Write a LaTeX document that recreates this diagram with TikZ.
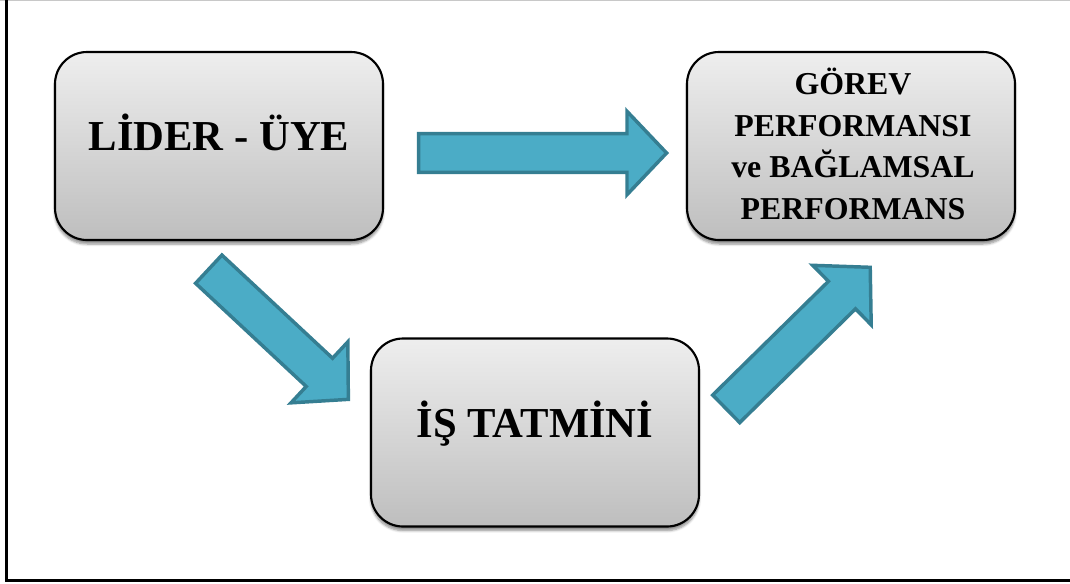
\documentclass[tikz,border=0pt]{standalone}
\usepackage{fontspec}
\setmainfont{Liberation Serif}
\usetikzlibrary{shadows.blur}
\definecolor{arrowfill}{HTML}{4BACC6}
\definecolor{arrowdraw}{HTML}{357E92}
\definecolor{boxtop}{HTML}{EEEEEE}
\definecolor{boxbot}{HTML}{BEBEBE}
\definecolor{framegray}{HTML}{C8C8C8}
\tikzset{
  stagebox/.style={draw=black, line width=1.6pt, rounded corners=24pt,
    top color=boxtop, bottom color=boxbot,
    minimum width=246pt, minimum height=141pt, inner sep=0pt,
    blur shadow={shadow xshift=0pt, shadow yshift=-3pt, shadow blur steps=6, shadow opacity=45}},
  bigtext/.style={font=\bfseries\fontsize{32}{38}\selectfont, inner sep=0pt},
  smalltext/.style={font=\bfseries\fontsize{23.9}{31.3}\selectfont, align=center, inner sep=0pt},
  blockarrow/.style={fill=arrowfill, draw=arrowdraw, line width=2.6pt, line join=miter},
}
\newcommand\myblockarrow[3]{%
  \begin{scope}[shift={(#1)}, rotate=#2]
    \draw[blockarrow] (1.7,-19.3) -- ({#3-42},-19.3) -- ({#3-42},-41.7) -- ({#3-2.4},0)
      -- ({#3-42},41.7) -- ({#3-42},19.3) -- (1.7,19.3) -- cycle;
  \end{scope}}
\begin{document}
\begin{tikzpicture}[x=0.75pt, y=-0.75pt]
  \useasboundingbox (0,0) rectangle (1070,583);
  % frame
  \draw[framegray, line width=0.8pt] (0,0.5) -- (1070,0.5);
  \draw[black, line width=2pt] (6.5,0) -- (6.5,580.5) -- (1070,580.5);
  % boxes
  \node[stagebox] (lider) at (219,146) {};
  \node[stagebox] (gorev) at (851,146) {};
  \node[stagebox] (tatmin) at (535,432.5) {};
  % labels
  \node[bigtext, anchor=base] (liderlbl) at (219,150) {LİDER - ÜYE};
  \node[bigtext, anchor=base] (tatminlbl) at (535,437) {İŞ TATMİNİ};
  \node[smalltext] (gorevlbl) at (853,144) {GÖREV\\PERFORMANSI\\ve BAĞLAMSAL\\PERFORMANS};
  % block arrows
  \coordinate (arrowAtail) at (417,153);
  \coordinate (arrowBtail) at (207.5,268);
  \coordinate (arrowCtail) at (725,410);
  \myblockarrow{arrowAtail}{0}{252}
  \myblockarrow{arrowBtail}{-43}{195}
  \myblockarrow{arrowCtail}{44.5}{206}
\end{tikzpicture}
\end{document}
